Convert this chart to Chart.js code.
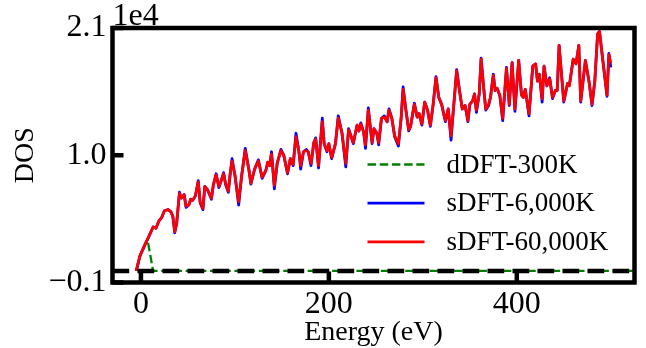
<!DOCTYPE html>
<html>
<head>
<meta charset="utf-8">
<script src="https://cdn.jsdelivr.net/npm/chart.js@4.4.0/dist/chart.umd.min.js"></script>
<style>
  html, body { margin: 0; padding: 0; background: #fff; }
</style>
</head>
<body>
<canvas id="dos-chart" width="646" height="348"></canvas>
<script>
// --- data (DOS in absolute units, axis shows x1e4) ---
const energy = [
  -5, -1, 5, 8, 13, 16, 19, 22, 25, 29,
  32, 34, 36, 38, 41, 43, 46, 48, 51, 53,
  55, 58, 61, 63, 66, 68, 71, 75, 77, 80,
  83, 85, 88, 90, 93, 95, 97, 100, 104, 107,
  111, 115, 117, 121, 125, 129, 133, 135, 137, 139,
  142, 145, 149, 152, 156, 159, 162, 165, 168, 170,
  173, 176, 178, 181, 184, 186, 189, 193, 195, 198,
  200, 203, 207, 210, 214, 218, 221, 223, 226, 230,
  232, 234, 237, 239, 242, 246, 248, 251, 253, 256,
  259, 262, 264, 267, 270, 274, 277, 279, 282, 285,
  287, 291, 294, 296, 299, 302, 305, 308, 311, 314,
  317, 320, 324, 327, 330, 333, 336, 339, 342, 345,
  348, 350, 353, 355, 357, 360, 362, 365, 367, 370,
  372, 375, 377, 379, 382, 385, 389, 392, 395, 398,
  402, 405, 407, 409, 413, 417, 420, 422, 424, 427,
  429, 432, 435, 438, 441, 443, 445, 450, 454, 456,
  460, 463, 466, 468, 473, 477, 480, 483, 486, 488,
  492, 496, 498, 500
];

const dosSdft60k = [
  0, 1300, 2400, 2900, 3800, 3700, 4300, 4600, 5200, 5300,
  5100, 4700, 3400, 4100, 6700, 6300, 6600, 5600, 5700, 6200,
  6100, 6500, 7700, 6000, 5400, 7300, 7000, 6300, 7400, 8300,
  7300, 7700, 8400, 7600, 6900, 8400, 9500, 8300, 6000, 8100,
  10400, 8700, 7600, 8800, 9500, 8100, 8700, 9400, 9100, 10100,
  7400, 9300, 10400, 10000, 8500, 9700, 9200, 11600, 10400, 9100,
  10300, 10400, 10300, 9300, 11100, 11400, 9100, 12900, 11000, 10400,
  11000, 9800, 11000, 13200, 11900, 9300, 12200, 11800, 11100, 12600,
  12100, 12700, 12000, 10900, 13900, 11100, 12300, 11900, 11100, 13200,
  13300, 12900, 13900, 13200, 11700, 11000, 13300, 15700, 13900, 12200,
  12500, 14400, 13300, 13600, 12700, 14600, 13900, 12600, 14400, 16700,
  15000, 14400, 13000, 14000, 11700, 14400, 17300, 15600, 14000, 14300,
  13000, 14400, 14700, 15300, 13900, 15300, 18300, 15600, 14000, 14400,
  15000, 16900, 15600, 15800, 15200, 13200, 17500, 14400, 18000, 14000,
  18200, 15200, 15000, 15700, 13600, 17700, 17900, 16400, 17000, 14900,
  17700, 16000, 16600, 15000, 15600, 15600, 19500, 14700, 16200, 16000,
  18300, 17900, 19500, 14700, 18200, 16300, 14400, 16400, 20500, 20700,
  17900, 15200, 18700, 18000
];

const dosSdft6k = [
  0, 1300, 2400, 2900, 3800, 3700, 4300, 4600, 5200, 5300,
  5100, 4700, 3300, 4100, 6800, 6300, 6600, 5500, 5700, 6200,
  6100, 6500, 7800, 5900, 5300, 7300, 7000, 6200, 7400, 8400,
  7200, 7700, 8500, 7500, 6800, 8400, 9700, 8300, 5700, 8100,
  10600, 8700, 7500, 8800, 9600, 8000, 8700, 9400, 9100, 10300,
  7100, 9300, 10500, 10000, 8400, 9700, 9100, 11900, 10400, 8800,
  10300, 10500, 10300, 9100, 11100, 11500, 8900, 13200, 11000, 10300,
  11000, 9700, 11000, 13400, 11900, 9000, 12300, 11800, 11000, 12600,
  12100, 12800, 12000, 10600, 14100, 11000, 12300, 11900, 10900, 13200,
  13400, 12900, 14000, 13200, 11600, 10800, 13300, 15900, 13900, 12100,
  12500, 14500, 13300, 13600, 12600, 14600, 13900, 12500, 14400, 16800,
  15000, 14400, 12900, 14000, 11300, 14400, 17400, 15600, 14000, 14300,
  12900, 14400, 14700, 15300, 13700, 15300, 18400, 15600, 13900, 14300,
  15000, 17000, 15600, 15800, 15100, 13000, 17600, 14300, 18000, 13800,
  18200, 15200, 15000, 15700, 13400, 17700, 17900, 16400, 17000, 14600,
  17700, 16000, 16700, 14900, 15600, 15600, 19500, 14600, 16200, 16100,
  18300, 17900, 19500, 14600, 18200, 16300, 14300, 16400, 20500, 20700,
  17900, 15100, 18800, 17600
];

// dDFT only has weight near the bottom of the band, zero elsewhere
const energyDdft = [-5, -1, 5, 7, 13, 100, 200, 300, 400, 530];
const dosDdft = [0, 1300, 2400, 2700, 0, 0, 0, 0, 0, 0];

const labels = ['dDFT-300K', 'sDFT-6,000K', 'sDFT-60,000K'];
const xTicks = [0, 200, 400];
const yTicks = [-1000, 10000, 21000];
const xMin = -30.25, xMax = 525.25;
const yMin = -1000, yMax = 21000;

const FONT = '"Liberation Serif", "Times New Roman", serif';

function toPoints(xs, ys) {
    return xs.map((x, i) => ({ x: x, y: ys[i] }));
}

// frame, inward ticks, y=0 line, offset text and legend
const decorPlugin = {
    id: 'decor',
    afterDatasetsDraw(chart) {
        const { ctx, chartArea: a, scales } = chart;
        ctx.save();

        // black dashed zero line
        const y0 = scales.y.getPixelForValue(0);
        ctx.strokeStyle = '#000';
        ctx.lineWidth = 4.5;
        ctx.setLineDash([16.7, 8.3]);
        ctx.beginPath();
        ctx.moveTo(a.left, y0);
        ctx.lineTo(a.right, y0);
        ctx.stroke();
        ctx.setLineDash([]);

        // ticks pointing inwards
        xTicks.forEach(v => {
            const px = scales.x.getPixelForValue(v);
            ctx.beginPath();
            ctx.moveTo(px, a.bottom);
            ctx.lineTo(px, a.bottom - 11);
            ctx.stroke();
        });
        yTicks.forEach(v => {
            const py = scales.y.getPixelForValue(v);
            ctx.beginPath();
            ctx.moveTo(a.left, py);
            ctx.lineTo(a.left + 11, py);
            ctx.stroke();
        });

        // axes frame
        ctx.lineWidth = 4.5;
        ctx.strokeRect(a.left, a.top, a.right - a.left, a.bottom - a.top);

        // scale offset text
        ctx.fillStyle = '#000';
        ctx.font = '32px ' + FONT;
        ctx.textAlign = 'left';
        ctx.textBaseline = 'alphabetic';
        ctx.fillText('1e4', a.left, a.top - 3);

        // legend (no frame)
        const lx = a.right - 267, ly = a.bottom - 118, rowH = 38.7;
        ctx.font = '27px ' + FONT;
        ctx.textBaseline = 'middle';
        chart.data.datasets.forEach((ds, i) => {
            const yy = ly + i * rowH;
            ctx.strokeStyle = ds.borderColor;
            ctx.lineWidth = ds.borderWidth;
            ctx.setLineDash(ds.borderDash || []);
            ctx.beginPath();
            ctx.moveTo(lx, yy);
            ctx.lineTo(lx + 57, yy);
            ctx.stroke();
            ctx.setLineDash([]);
            ctx.fillText(ds.label, lx + 79, yy + 1);
        });

        ctx.restore();
    }
};

const ctx = document.getElementById('dos-chart').getContext('2d');
new Chart(ctx, {
    type: 'line',
    data: {
        datasets: [
            {
                label: labels[0],
                data: toPoints(energyDdft, dosDdft),
                borderColor: '#008000',
                borderWidth: 2.3,
                borderDash: [8.5, 3.7],
                order: 3
            },
            {
                label: labels[1],
                data: toPoints(energy, dosSdft6k),
                borderColor: '#0000ff',
                borderWidth: 2.8,
                order: 2
            },
            {
                label: labels[2],
                data: toPoints(energy, dosSdft60k),
                borderColor: '#ff0000',
                borderWidth: 2.8,
                order: 1
            }
        ]
    },
    options: {
        responsive: false,
        animation: false,
        devicePixelRatio: 1,
        parsing: false,
        elements: {
            point: { radius: 0 },
            line: { tension: 0, borderJoinStyle: 'round', fill: false }
        },
        layout: { padding: { top: 28, right: 11.5, bottom: 0, left: 0 } },
        plugins: {
            legend: { display: false },
            tooltip: { enabled: false }
        },
        scales: {
            x: {
                type: 'linear',
                position: 'bottom',
                min: xMin,
                max: xMax,
                afterBuildTicks: scale => { scale.ticks = xTicks.map(v => ({ value: v })); },
                afterFit: scale => { scale.height = 65.5; },
                grid: { display: false, drawTicks: false },
                border: { display: false },
                ticks: {
                    autoSkip: false,
                    maxRotation: 0,
                    padding: 3,
                    color: '#000',
                    font: { family: FONT, size: 32 }
                },
                title: {
                    display: true,
                    text: 'Energy (eV)',
                    color: '#000',
                    font: { family: FONT, size: 28, lineHeight: 1.0 },
                    padding: { top: 0, bottom: 1 }
                }
            },
            y: {
                type: 'linear',
                min: yMin,
                max: yMax,
                afterBuildTicks: scale => { scale.ticks = yTicks.map(v => ({ value: v })); },
                afterFit: scale => { scale.width = 112.5; },
                grid: { display: false, drawTicks: false },
                border: { display: false },
                ticks: {
                    autoSkip: false,
                    padding: 6,
                    color: '#000',
                    font: { family: FONT, size: 32 },
                    callback: value => (value / 1e4).toFixed(1).replace('-', '\u2212')
                },
                title: {
                    display: true,
                    text: 'DOS',
                    color: '#000',
                    font: { family: FONT, size: 28 },
                    padding: { top: 9, bottom: 0 }
                }
            }
        }
    },
    plugins: [decorPlugin]
});
</script>
</body>
</html>
